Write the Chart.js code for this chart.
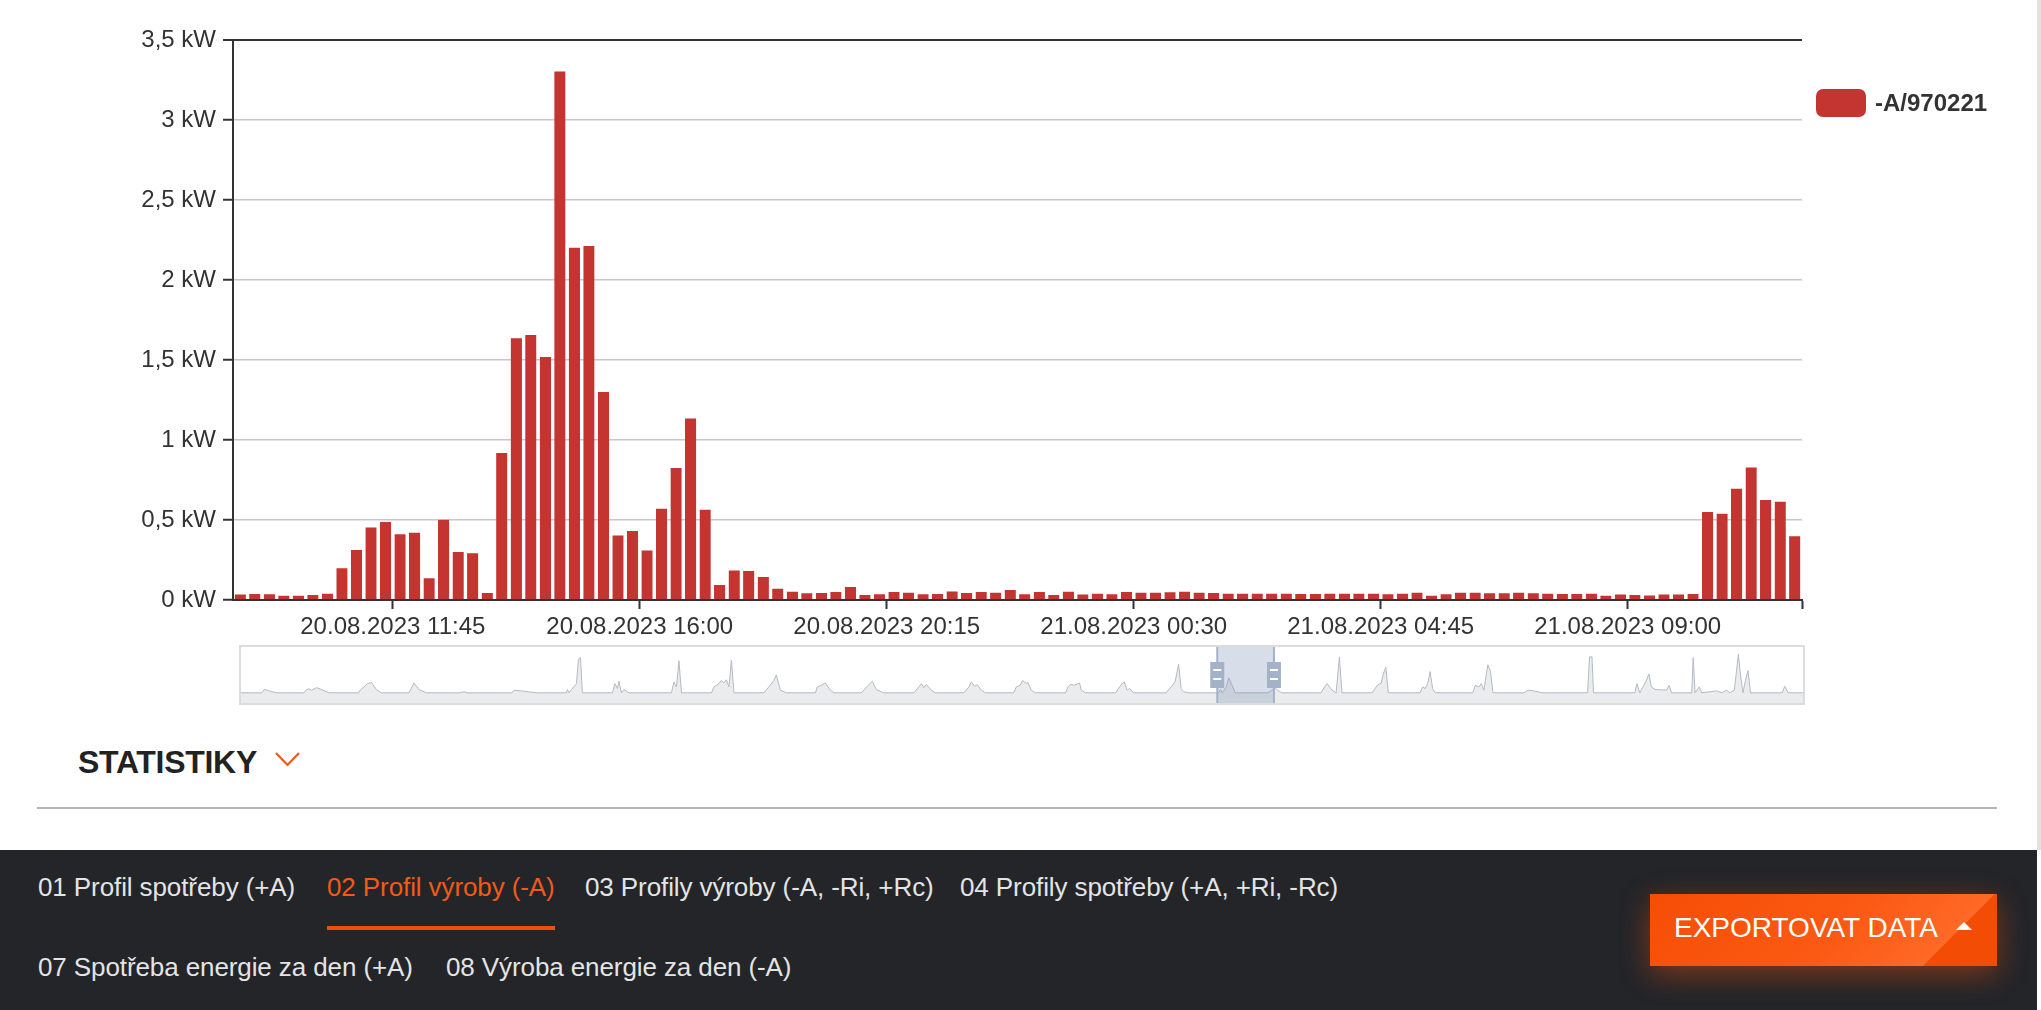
<!DOCTYPE html>
<html lang="cs">
<head>
<meta charset="utf-8">
<title>02 Profil výroby (-A)</title>
<script src="https://cdn.jsdelivr.net/npm/chart.js@4.4.0/dist/chart.umd.min.js"></script>
<style>
    html, body { margin: 0; padding: 0; }
    body {
        position: relative;
        width: 2041px;
        height: 1010px;
        overflow: hidden;
        background: #fff;
        font-family: "Liberation Sans", Arial, Helvetica, sans-serif;
    }
    #mainWrap { position: absolute; left: 0; top: 0; width: 2037px; height: 660px; }
    #navWrap {
        position: absolute; left: 239px; top: 645px;
        width: 1566px; height: 60px;
        border: 2px solid #dcdcdc; box-sizing: border-box; background: #fff;
    }
    .side-strip { position: absolute; left: 2037px; top: 0; width: 4px; height: 850px; background: #e2e2e2; }
    .heading {
        position: absolute; left: 78px; top: 746px;
        font-size: 32px; line-height: 32px; font-weight: bold;
        letter-spacing: -0.3px; color: #222;
    }
    .chevron { position: absolute; left: 274px; top: 750px; }
    .divider { position: absolute; left: 37px; top: 807px; width: 1960px; height: 2px; background: #b3b3b3; }
    .footer { position: absolute; left: 0; top: 850px; width: 2037px; height: 160px; background: #232529; }
    .tab {
        position: absolute; white-space: nowrap;
        font-size: 26px; line-height: 26px; color: #e4e4e4; letter-spacing: -0.1px;
    }
    .tab.active { color: #f25a17; }
    .tab.active::after {
        content: ''; position: absolute; left: 0; right: 0; top: 52px; height: 4px; background: #f04f0a;
    }
    .export-btn {
        position: absolute; left: 1650px; top: 44px; width: 347px; height: 72px;
        background: linear-gradient(-45deg, #f24c05 0, #f24c05 52px, #ff6a26 53px, #fb5a14 45%, #f64d05 100%);
        box-shadow: 0 8px 30px rgba(247, 79, 6, 0.45);
        color: #fff;
    }
    .export-btn span {
        position: absolute; left: 24px; top: 20px;
        font-size: 28px; line-height: 28px; white-space: nowrap;
    }
    .export-btn i {
        position: absolute; left: 306px; top: 28px; width: 0; height: 0;
        border-left: 8.5px solid transparent; border-right: 8.5px solid transparent;
        border-bottom: 8px solid #fff;
    }
</style>
</head>
<body>
<div id="mainWrap"><canvas id="productionChart"></canvas></div>
<div id="navWrap"><canvas id="navigatorChart"></canvas></div>
<div class="side-strip"></div>

<div class="heading">STATISTIKY</div>
<svg class="chevron" width="28" height="18" viewBox="0 0 28 18">
    <polyline points="2,3 13.5,15 25,3" fill="none" stroke="#f05a1a" stroke-width="2.2"/>
</svg>
<div class="divider"></div>

<div class="footer">
    <div class="tab" style="left:38px;top:24px">01 Profil spotřeby (+A)</div>
    <div class="tab active" style="left:327px;top:24px">02 Profil výroby (-A)</div>
    <div class="tab" style="left:585px;top:24px">03 Profily výroby (-A, -Ri, +Rc)</div>
    <div class="tab" style="left:960px;top:24px">04 Profily spotřeby (+A, +Ri, -Rc)</div>
    <div class="tab" style="left:38px;top:104px">07 Spotřeba energie za den (+A)</div>
    <div class="tab" style="left:446px;top:104px">08 Výroba energie za den (-A)</div>
    <div class="export-btn"><span>EXPORTOVAT DATA</span><i></i></div>
</div>

<script>
// 15 minute intervals, first one starts at 20.08.2023 09:00
const seriesName = '-A/970221';
const firstInterval = '20.08.2023 09:00';
const intervalMinutes = 15;
const productionKw = [
    0.04, 0.044, 0.042, 0.033, 0.033, 0.037, 0.046, 0.204, 0.319, 0.46,
    0.494, 0.417, 0.427, 0.142, 0.508, 0.306, 0.298, 0.05, 0.925, 1.642,
    1.663, 1.525, 3.31, 2.208, 2.219, 1.306, 0.41, 0.437, 0.315, 0.577,
    0.831, 1.14, 0.571, 0.1, 0.19, 0.187, 0.15, 0.077, 0.058, 0.048,
    0.05, 0.056, 0.087, 0.037, 0.042, 0.056, 0.052, 0.042, 0.044, 0.06,
    0.05, 0.056, 0.052, 0.069, 0.042, 0.056, 0.037, 0.058, 0.04, 0.046,
    0.042, 0.056, 0.052, 0.052, 0.054, 0.058, 0.052, 0.05, 0.046, 0.046,
    0.046, 0.046, 0.046, 0.044, 0.044, 0.046, 0.046, 0.046, 0.046, 0.042,
    0.046, 0.052, 0.033, 0.042, 0.052, 0.052, 0.048, 0.048, 0.052, 0.048,
    0.046, 0.044, 0.044, 0.046, 0.033, 0.04, 0.037, 0.035, 0.04, 0.04,
    0.044, 0.556, 0.546, 0.702, 0.835, 0.631, 0.621, 0.404
];
const xTickLabels = [
    '20.08.2023 11:45', '20.08.2023 16:00', '20.08.2023 20:15',
    '21.08.2023 00:30', '21.08.2023 04:45', '21.08.2023 09:00'
];
const yMax = 3.5;
const yStep = 0.5;

// navigator (whole month), hours since navigatorRange[0]
const navigatorRange = ['01.08.2023 00:00', '01.09.2023 00:00'];
const navigatorHours = [
    0, 10, 11, 12, 14, 17,
    30, 31.2, 32.4, 33.6, 36, 38, 41.9,
    56, 56.9, 58.6, 60.2, 62.1, 64.5, 66.9,
    80, 82.4, 84.8, 88.3,
    104, 106.2, 108,
    129, 130, 133.6, 140.7,
    155, 155.5, 156.2, 157.4, 159.8, 160.7, 161.7, 162.6,
    176.9, 178.1, 179.3, 180, 181.2, 182.4, 184.8,
    205, 206.2, 207.4, 208.6, 209.8,
    224.1, 225.2, 227.6, 228.8, 230, 231.2, 232.4, 233.6, 234.8,
    249.1, 251.4, 253.8, 255, 256.9, 259.8,
    273.6, 274.5, 276.4, 278.3, 280.7, 282.4,
    295.5, 298.3, 300.7, 302.6, 305, 306,
    320.5, 322.9, 324.1, 325.2, 326.4, 328.8, 330.7,
    344.3, 346.7, 347.9, 349.5, 350.7, 352.6, 354.5,
    368, 369.3, 371.1, 372.3, 374, 374.7, 376.4, 378.3,
    392.7, 393.9, 395.1, 397, 399.4, 400.3, 402.2,
    416.6, 419, 420.7, 422.1, 423.3, 425,
    440.6, 443, 444.9, 446.6, 447.8, 449, 451.4,
    465.7, 466.5, 467.4, 469.3, 470.5, 471.7, 473.6,
    489, 490.9, 492.8, 493.8, 495.7,
    514.4, 516.1, 517.3, 519.7, 521.6, 523.2, 524.4,
    538.8, 541.2, 543.1, 544.1, 545.3, 546.5,
    561.6, 562.8, 564, 565.2, 566.4, 567.6, 568.8,
    586.7, 587.9, 589.6, 590.8, 592, 593.2, 593.9, 595.1, 596.3,
    611, 613.1, 615.5, 620.3,
    641.4, 642.3, 643.5, 644.2,
    663.9, 664.9, 666.3, 669.4, 670.6, 671.8, 673.5, 679, 680.2, 681.4,
    691, 691.7, 692.6, 694.6, 695.8,
    702.9, 705.3, 707.7, 708.9, 711.3, 713.2, 714.2, 715.4, 716.6, 717.8, 719,
    734.1, 735.3, 737, 744
];
const navigatorKw = [
    0, 0, 0.32, 0.3, 0.15, 0,
    0, 0.32, 0.38, 0.26, 0.51, 0.35, 0,
    0, 0.3, 0.58, 0.9, 1.03, 0.32, 0,
    0, 0.96, 0.32, 0,
    0, 0.1, 0,
    0, 0.26, 0.19, 0,
    0, 0.32, 0, 0.32, 0.9, 3.3, 3.46, 0,
    0, 0.9, 0.42, 1.15, 0, 0.32, 0,
    0, 1.06, 0.58, 3.14, 0,
    0, 0.58, 0.9, 1.22, 0.96, 1.28, 0.58, 3.2, 0,
    0, 0.58, 1.22, 1.76, 0.26, 0,
    0, 0.58, 0.74, 0.96, 0.26, 0,
    0, 0.64, 1.12, 0.32, 0.1, 0,
    0, 0.58, 0.9, 0.51, 0.83, 0.26, 0,
    0, 0.58, 1.06, 0.64, 0.8, 0.26, 0,
    0, 0.58, 0.74, 1.22, 0.9, 1.06, 0.26, 0,
    0, 0.58, 0.83, 0.74, 0.96, 0.26, 0,
    0, 0.74, 1.06, 0.26, 0.42, 0,
    0, 0.58, 1.06, 2.82, 0.42, 0.1, 0,
    0, 0.32, 0, 0.58, 1.47, 0.9, 0,
    0, 0.26, 0.42, 0.26, 0,
    0, 0.58, 0.9, 0.26, 0, 3.53, 0,
    0, 0.74, 0.96, 1.86, 2.5, 0,
    0, 0.58, 0.42, 0.9, 2.08, 0.42, 0,
    0, 0.74, 0.58, 0.9, 0.26, 1.86, 2.76, 2.18, 0,
    0, 0.26, 0.19, 0,
    0, 3.53, 3.53, 0,
    0, 0.9, 0, 1.22, 1.86, 0.58, 0.32, 0.26, 0.74, 0,
    0, 3.46, 0, 0.58, 0,
    0.19, 0, 0.26, 0, 0.26, 3.78, 1.86, 0, 1.22, 2.18, 0,
    0, 0.64, 0, 0
];

const BAR_COLOR = '#c43431';
const AXIS_COLOR = '#333';
const GRID_COLOR = '#c8c8c8';
const HOUR = 3600000;

function parseStamp(s) {
    const [d, t] = s.split(' ');
    const [dd, mm, yy] = d.split('.').map(Number);
    const [hh, mi] = t.split(':').map(Number);
    return Date.UTC(yy, mm - 1, dd, hh, mi);
}

const startMs = parseStamp(firstInterval);
const stepMs = intervalMinutes * 60000;
const endMs = startMs + productionKw.length * stepMs;

document.addEventListener('DOMContentLoaded', function() {
    Chart.defaults.font.family = '"Liberation Sans", Arial, Helvetica, sans-serif';
    Chart.defaults.color = AXIS_COLOR;
    initializeMainChart();
    initializeNavigator();
});

// legend drawn to the right of the plot, like the original
const sideLegend = {
    id: 'sideLegend',
    afterDraw(chart) {
        const { ctx, chartArea } = chart;
        const ds = chart.data.datasets[0];
        const x = chartArea.right + 14;
        const y = chartArea.top + 49;
        ctx.save();
        ctx.fillStyle = ds.backgroundColor;
        ctx.beginPath();
        ctx.roundRect(x, y, 50, 28, 7);
        ctx.fill();
        ctx.fillStyle = AXIS_COLOR;
        ctx.font = 'bold 24px "Liberation Sans", Arial, sans-serif';
        ctx.textBaseline = 'middle';
        ctx.fillText(ds.label, x + 59, y + 15);
        ctx.restore();
    }
};

function initializeMainChart() {
    const ctx = document.getElementById('productionChart');
    const tickValues = xTickLabels.map(parseStamp);
    new Chart(ctx, {
        type: 'bar',
        data: {
            datasets: [{
                label: seriesName,
                data: productionKw.map((v, i) => ({ x: startMs + i * stepMs + stepMs / 2, y: v })),
                backgroundColor: BAR_COLOR,
                borderColor: 'rgba(255,255,255,0.45)',
                borderWidth: { top: 1, left: 0, right: 0, bottom: 0 },
                borderSkipped: 'bottom',
                categoryPercentage: 1,
                barPercentage: 0.78
            }]
        },
        options: {
            animation: false,
            responsive: true,
            maintainAspectRatio: false,
            events: [],
            layout: { padding: { top: 40, right: 235, bottom: 0, left: 0 } },
            plugins: {
                legend: { display: false },
                tooltip: { enabled: false }
            },
            scales: {
                x: {
                    type: 'linear',
                    offset: false,
                    min: startMs,
                    max: endMs,
                    afterFit: s => { s.height = 60; },
                    afterBuildTicks: s => {
                        s.ticks = tickValues.concat([endMs]).map(v => ({ value: v }));
                    },
                    grid: {
                        offset: false,
                        drawOnChartArea: false,
                        drawTicks: true,
                        tickLength: 9,
                        tickColor: AXIS_COLOR,
                        tickWidth: 2
                    },
                    border: { color: AXIS_COLOR, width: 2 },
                    ticks: {
                        autoSkip: false,
                        maxRotation: 0,
                        padding: 4,
                        color: AXIS_COLOR,
                        font: { size: 24 },
                        callback: (v, i) => xTickLabels[i] || ''
                    }
                },
                y: {
                    min: 0,
                    max: yMax,
                    afterFit: s => { s.width = 233; },
                    grid: {
                        color: c => (c.tick && (c.tick.value === yMax || c.tick.value === 0)) ? AXIS_COLOR : GRID_COLOR,
                        lineWidth: c => (c.tick && c.tick.value === yMax) ? 2 : 1.5,
                        tickLength: 10,
                        tickColor: AXIS_COLOR,
                        tickWidth: 2
                    },
                    border: { color: AXIS_COLOR, width: 2 },
                    ticks: {
                        stepSize: yStep,
                        padding: 7,
                        color: AXIS_COLOR,
                        font: { size: 24 },
                        callback: v => String(v).replace('.', ',') + ' kW'
                    }
                }
            }
        },
        plugins: [sideLegend]
    });
}

function initializeNavigator() {
    const ctx = document.getElementById('navigatorChart');
    const navStart = parseStamp(navigatorRange[0]);
    const navSpan = (parseStamp(navigatorRange[1]) - navStart) / HOUR;
    const windowFrom = (startMs - navStart) / HOUR;
    const windowTo = (endMs - navStart) / HOUR;

    const selection = {
        id: 'selection',
        afterDatasetsDraw(chart) {
            const { ctx, chartArea, scales } = chart;
            const x1 = scales.x.getPixelForValue(windowFrom);
            const x2 = scales.x.getPixelForValue(windowTo);
            const mid = (chartArea.top + chartArea.bottom) / 2;
            ctx.save();
            ctx.fillStyle = 'rgba(110,135,175,0.28)';
            ctx.fillRect(x1, chartArea.top, x2 - x1, chartArea.bottom - chartArea.top);
            [x1, x2].forEach(x => {
                ctx.strokeStyle = '#a3b2c9';
                ctx.lineWidth = 2;
                ctx.beginPath();
                ctx.moveTo(x, chartArea.top);
                ctx.lineTo(x, chartArea.bottom);
                ctx.stroke();
                ctx.fillStyle = '#a3b2c9';
                ctx.fillRect(x - 7, mid - 13, 14, 26);
                ctx.fillStyle = '#fff';
                ctx.fillRect(x - 4, mid - 6, 8, 2);
                ctx.fillRect(x - 4, mid + 3, 8, 2);
            });
            ctx.restore();
        }
    };

    new Chart(ctx, {
        type: 'line',
        data: {
            datasets: [{
                data: navigatorHours.map((h, i) => ({ x: h, y: navigatorKw[i] })),
                borderColor: '#b4bac2',
                borderWidth: 1,
                backgroundColor: '#ebecee',
                fill: 'start',
                pointRadius: 0,
                tension: 0
            }]
        },
        options: {
            animation: false,
            responsive: true,
            maintainAspectRatio: false,
            events: [],
            layout: { padding: 0 },
            plugins: {
                legend: { display: false },
                tooltip: { enabled: false }
            },
            scales: {
                x: { type: 'linear', display: false, min: 0, max: navSpan },
                y: { display: false, min: -1, max: 4.5 }
            }
        },
        plugins: [selection]
    });
}
</script>
</body>
</html>
